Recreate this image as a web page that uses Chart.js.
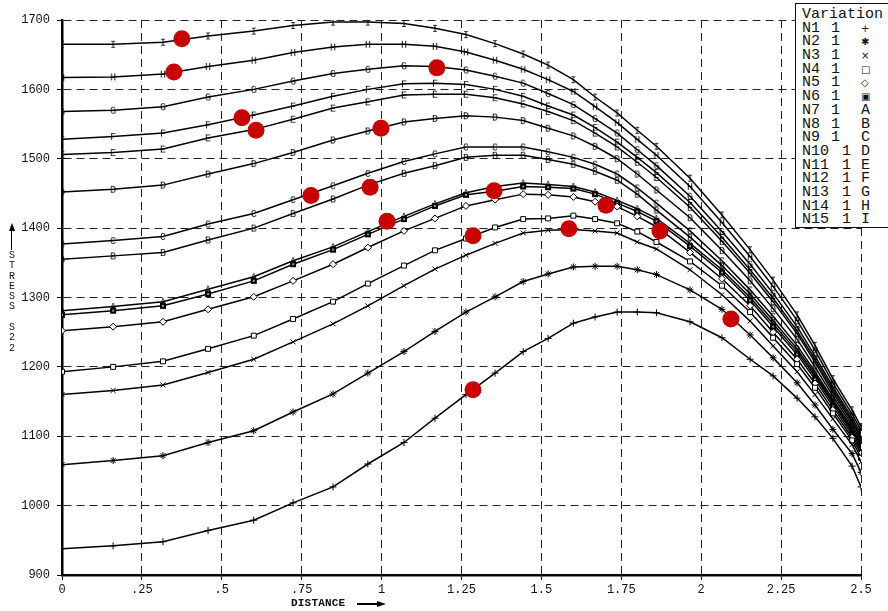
<!DOCTYPE html>
<html>
<head>
<meta charset="utf-8">
<title>Stress S22 vs Distance</title>
<script src="https://cdn.jsdelivr.net/npm/chart.js@4.4.0/dist/chart.umd.min.js"></script>
<style>
    body { margin: 0; background: #fff; overflow: hidden; }
    #wrap { position: relative; width: 888px; height: 611px; overflow: hidden; }
    #chartStress { position: absolute; left: 0; top: 0; }
    .ytitle { position: absolute; left: 7px; top: 251px; width: 10px; font: 10px "Liberation Mono", monospace; line-height: 10.3px; text-align: center; white-space: pre; color: #111; }
    .yarrow { position: absolute; left: 11px; top: 230px; width: 1.4px; height: 20px; background: #000; }
    .yarrowhead { position: absolute; left: 8.7px; top: 223px; width: 0; height: 0; border-left: 3px solid transparent; border-right: 3px solid transparent; border-bottom: 8px solid #000; }
    .xtitle { position: absolute; left: 291px; top: 597px; font: bold 11px "Liberation Mono", monospace; color: #111; letter-spacing: 0.2px; }
    .xarrow { position: absolute; left: 357px; top: 603px; width: 22px; height: 1.5px; background: #000; }
    .xarrowhead { position: absolute; left: 377px; top: 600.5px; width: 0; height: 0; border-top: 3px solid transparent; border-bottom: 3px solid transparent; border-left: 9px solid #000; }
    #legendBox { position: absolute; left: 795px; top: 3px; width: 110px; height: 225px; border: 1.5px solid #111; background: #fff; padding: 4px 0 0 6px; box-sizing: border-box; font: 15px "Liberation Mono", monospace; color: #111; }
    .lrow { position: relative; height: 13.7px; line-height: 13.7px; white-space: pre; }
    .lrow span { position: absolute; top: 0; }
</style>
</head>
<body>
<div id="wrap">
    <canvas id="chartStress" width="888" height="611"></canvas>
    <div class="yarrowhead"></div>
    <div class="yarrow"></div>
    <div class="ytitle">S
T
R
E
S
S
 
S
2
2</div>
    <div class="xtitle">DISTANCE</div>
    <div class="xarrow"></div>
    <div class="xarrowhead"></div>
    <div id="legendBox"></div>
</div>

<script>
// x positions of the nodes (same for every curve)
var xDistance = [0, 0.16, 0.316, 0.457, 0.6, 0.723, 0.848, 0.957, 1.07, 1.167, 1.264, 1.355, 1.443, 1.521, 1.6,
    1.668, 1.737, 1.8, 1.86, 1.965, 2.065, 2.153, 2.225, 2.3, 2.356, 2.412, 2.472, 2.5];

// stress S22 for each variation
var stressN1  = [938, 942, 948, 964, 979, 1004, 1027, 1060, 1091, 1126, 1160, 1191, 1222, 1241, 1263, 1272, 1279, 1279, 1278, 1265, 1242, 1211, 1187, 1155, 1128, 1097, 1057, 1027];
var stressN2  = [1059, 1065, 1072, 1091, 1108, 1135, 1161, 1191, 1222, 1251, 1279, 1301, 1323, 1334, 1344, 1345, 1345, 1340, 1333, 1311, 1283, 1246, 1213, 1177, 1145, 1110, 1075, 1048];
var stressN3  = [1160, 1166, 1174, 1192, 1211, 1236, 1262, 1288, 1317, 1341, 1361, 1378, 1393, 1397, 1398, 1396, 1393, 1380, 1370, 1340, 1304, 1266, 1230, 1193, 1160, 1125, 1088, 1063];
var stressN4  = [1193, 1200, 1208, 1226, 1245, 1269, 1294, 1320, 1346, 1368, 1385, 1401, 1413, 1414, 1418, 1413, 1407, 1395, 1380, 1352, 1317, 1279, 1242, 1204, 1170, 1133, 1094, 1069];
var stressN5  = [1252, 1258, 1265, 1283, 1301, 1324, 1348, 1372, 1396, 1414, 1432, 1441, 1449, 1448, 1445, 1438, 1431, 1417, 1402, 1365, 1327, 1288, 1250, 1211, 1176, 1138, 1098, 1075];
var stressN6  = [1275, 1281, 1288, 1305, 1324, 1348, 1369, 1391, 1413, 1432, 1448, 1453, 1460, 1459, 1457, 1449, 1436, 1424, 1410, 1374, 1336, 1296, 1258, 1218, 1182, 1143, 1102, 1079];
var stressN7  = [1281, 1287, 1294, 1312, 1330, 1353, 1373, 1395, 1417, 1435, 1451, 1460, 1465, 1463, 1460, 1452, 1440, 1428, 1414, 1378, 1340, 1300, 1262, 1222, 1186, 1147, 1106, 1083];
var stressN8  = [1355, 1360, 1365, 1383, 1400, 1421, 1442, 1462, 1479, 1490, 1502, 1505, 1505, 1499, 1492, 1482, 1469, 1449, 1426, 1387, 1346, 1305, 1267, 1226, 1189, 1150, 1109, 1086];
var stressN9  = [1377, 1382, 1388, 1406, 1421, 1441, 1461, 1479, 1496, 1507, 1517, 1517, 1517, 1510, 1502, 1492, 1478, 1458, 1436, 1396, 1353, 1311, 1273, 1231, 1193, 1153, 1112, 1089];
var stressN10 = [1452, 1456, 1462, 1478, 1493, 1509, 1527, 1540, 1553, 1558, 1562, 1560, 1555, 1544, 1533, 1518, 1500, 1478, 1455, 1415, 1368, 1324, 1284, 1240, 1200, 1158, 1116, 1093];
var stressN11 = [1506, 1509, 1514, 1530, 1542, 1557, 1573, 1582, 1592, 1593, 1593, 1588, 1579, 1568, 1555, 1537, 1517, 1495, 1473, 1430, 1381, 1335, 1294, 1248, 1207, 1163, 1120, 1097];
var stressN12 = [1528, 1532, 1537, 1549, 1563, 1576, 1590, 1600, 1608, 1609, 1607, 1600, 1590, 1576, 1563, 1545, 1524, 1502, 1480, 1437, 1387, 1340, 1299, 1252, 1211, 1167, 1123, 1100];
var stressN13 = [1568, 1570, 1575, 1589, 1600, 1612, 1623, 1629, 1634, 1633, 1628, 1619, 1609, 1594, 1578, 1558, 1537, 1513, 1490, 1446, 1395, 1348, 1306, 1258, 1216, 1171, 1127, 1104];
var stressN14 = [1617, 1618, 1622, 1633, 1642, 1653, 1661, 1665, 1665, 1662, 1654, 1642, 1629, 1614, 1597, 1575, 1552, 1528, 1505, 1460, 1408, 1359, 1316, 1267, 1224, 1177, 1132, 1109];
var stressN15 = [1665, 1665, 1668, 1677, 1684, 1692, 1697, 1697, 1695, 1688, 1679, 1666, 1651, 1635, 1614, 1589, 1566, 1541, 1518, 1472, 1419, 1369, 1325, 1275, 1231, 1183, 1138, 1114];

// red marks put on the plot
var dotX = [0.375, 0.35, 1.173, 0.563, 0.607, 0.998, 0.779, 0.964, 1.017, 1.352, 1.286, 1.586, 1.702, 1.871, 2.093, 1.286];
var dotY = [1673, 1625, 1631, 1559, 1541, 1544, 1447, 1459, 1410, 1454, 1389, 1399, 1433, 1396, 1269, 1167];

// legend / tick texts
var seriesNames = ['N1', 'N2', 'N3', 'N4', 'N5', 'N6', 'N7', 'N8', 'N9', 'N10', 'N11', 'N12', 'N13', 'N14', 'N15'];
var seriesVariation = ['1', '1', '1', '1', '1', '1', '1', '1', '1', '1', '1', '1', '1', '1', '1'];
var legendSymbols = ['+', '\u2731', '\u00d7', '\u25a1', '\u25c7', '\u25a3', 'A', 'B', 'C', 'D', 'E', 'F', 'G', 'H', 'I'];
var xTickLabels = ['0', '.25', '.5', '.75', '1', '1.25', '1.5', '1.75', '2', '2.25', '2.5'];

// small letter marker drawn on a canvas
function letterMarker(ch) {
    var c = document.createElement('canvas');
    c.width = 10;
    c.height = 11;
    var g = c.getContext('2d');
    g.font = '10px "Liberation Mono"';
    g.textAlign = 'center';
    g.textBaseline = 'middle';
    g.fillStyle = '#000';
    g.fillText(ch, 5, 6);
    return c;
}

// filled square with a light centre (N6)
function boxMarker() {
    var c = document.createElement('canvas');
    c.width = 8;
    c.height = 8;
    var g = c.getContext('2d');
    g.fillStyle = '#000';
    g.fillRect(1, 1, 6, 6);
    g.fillStyle = '#999';
    g.fillRect(3, 3, 2, 2);
    return c;
}

function buildLegend() {
    var box = document.getElementById('legendBox');
    var head = document.createElement('div');
    head.className = 'lrow';
    head.textContent = 'Variation';
    box.appendChild(head);
    for (var i = 0; i < seriesNames.length; i++) {
        var row = document.createElement('div');
        row.className = 'lrow';
        var a = document.createElement('span');
        a.style.left = '0px';
        a.textContent = seriesNames[i];
        var b = document.createElement('span');
        b.style.left = (seriesNames[i].length > 2 ? 40 : 29) + 'px';
        b.textContent = seriesVariation[i];
        var s = document.createElement('span');
        s.style.left = '59px';
        s.textContent = legendSymbols[i];
        if (i < 6) {
            s.style.fontSize = '10px';
            s.style.fontFamily = '"DejaVu Sans", sans-serif';
        }
        row.appendChild(a);
        row.appendChild(b);
        row.appendChild(s);
        box.appendChild(row);
    }
}

document.addEventListener("DOMContentLoaded", function() {
    buildLegend();

    var seriesList = [stressN1, stressN2, stressN3, stressN4, stressN5, stressN6, stressN7, stressN8,
        stressN9, stressN10, stressN11, stressN12, stressN13, stressN14, stressN15];
    var markers = ['cross', 'star', 'crossRot', 'rect', 'rectRot', boxMarker(),
        letterMarker('A'), letterMarker('B'), letterMarker('C'), letterMarker('D'), letterMarker('E'),
        letterMarker('F'), letterMarker('G'), letterMarker('H'), letterMarker('I')];

    var datasets = [];

    // red dots on top
    var dots = [];
    for (var d = 0; d < dotX.length; d++) {
        dots.push({ x: dotX[d], y: dotY[d] });
    }
    datasets.push({
        label: 'marks',
        data: dots,
        showLine: false,
        pointRadius: 8.5,
        pointHoverRadius: 8.5,
        pointBackgroundColor: 'rgb(200, 0, 0)',
        pointBorderWidth: 0,
        order: -1
    });

    for (var i = 0; i < seriesList.length; i++) {
        var pts = [];
        for (var j = 0; j < xDistance.length; j++) {
            pts.push({ x: xDistance[j], y: seriesList[i][j] });
        }
        datasets.push({
            label: seriesNames[i],
            data: pts,
            borderColor: '#000',
            borderWidth: 1.5,
            tension: 0,
            fill: false,
            pointStyle: markers[i],
            pointRadius: 3.5,
            pointBorderColor: '#000',
            pointBackgroundColor: '#fff',
            pointBorderWidth: 1
        });
    }

    var tickFont = { family: '"Liberation Mono", monospace', size: 12 };

    var chartStress = new Chart(document.getElementById('chartStress'), {
        type: 'line',
        data: { datasets: datasets },
        options: {
            responsive: false,
            animation: false,
            events: [],
            layout: { padding: { top: 20, right: 27, left: 0, bottom: 0 } },
            plugins: {
                legend: { display: false },
                tooltip: { enabled: false }
            },
            scales: {
                x: {
                    type: 'linear',
                    min: 0,
                    max: 2.5,
                    afterFit: function(scale) { scale.height = 36; },
                    ticks: {
                        stepSize: 0.25,
                        autoSkip: false,
                        maxRotation: 0,
                        padding: 3,
                        color: '#111',
                        font: tickFont,
                        callback: function(v) { return xTickLabels[Math.round(v / 0.25)]; }
                    },
                    grid: { color: '#222', lineWidth: 1, tickLength: 5, tickColor: '#000', tickBorderDash: [] },
                    border: { display: true, color: '#000', width: 2.5, dash: [8, 5] }
                },
                y: {
                    min: 900,
                    max: 1700,
                    afterFit: function(scale) { scale.width = 62; },
                    ticks: {
                        stepSize: 100,
                        padding: 7,
                        color: '#111',
                        font: tickFont,
                        callback: function(v) { return String(v); }
                    },
                    grid: { color: '#222', lineWidth: 1, tickLength: 5, tickColor: '#000', tickBorderDash: [] },
                    border: { display: true, color: '#000', width: 2.5, dash: [8, 5] }
                }
            }
        }
    });
});
</script>
</body>
</html>
